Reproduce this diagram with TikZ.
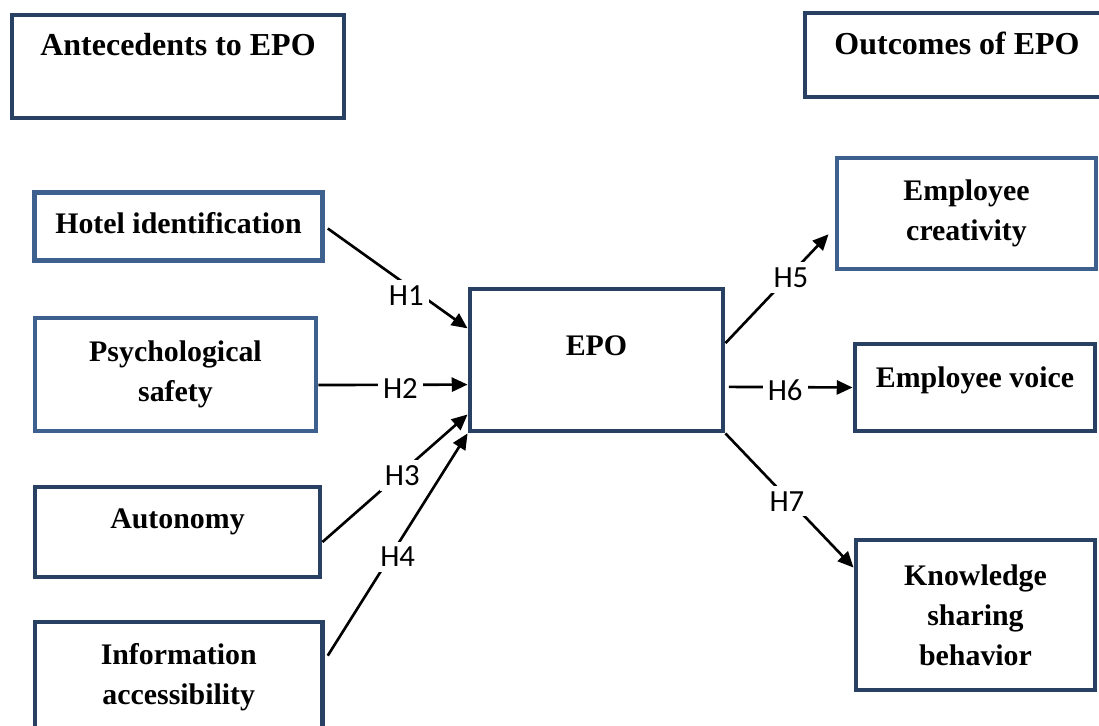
\documentclass[tikz,border=0pt]{standalone}
\usepackage{fontspec}
\setmainfont{Liberation Serif}
\newfontfamily\hypfont{Carlito}
\usepackage{xcolor}
\usepackage{tikz}
\usetikzlibrary{arrows.meta,positioning}

\definecolor{navy}{RGB}{40,64,98}
\definecolor{steel}{RGB}{62,96,143}

\tikzset{
  box/.style={draw=navy, line width=2.8pt, rectangle, align=center, inner sep=2pt,
    font=\fontsize{17}{22.7}\selectfont\bfseries},
  headbox/.style={box, font=\fontsize{18.2}{22.7}\selectfont\bfseries},
  lightbox/.style={box, draw=steel},
  hyp/.style={fill=white, inner sep=3pt, yshift=-2pt, font=\fontsize{17.5}{19}\selectfont\hypfont},
  arr/.style={line width=1.5pt, -{Triangle[length=9pt,width=8pt]}}
}

\begin{document}
\begin{tikzpicture}[x=0.02cm, y=-0.02cm]
	\useasboundingbox (0,0) rectangle (1099,726);

	% \draw headings
	\node[headbox, minimum width=6.64cm, minimum height=2.06cm, text height=12.5pt, text depth=25pt] (anteced) at (178,66.5) {Antecedents to EPO};
	\node[headbox, minimum width=6.08cm, minimum height=1.68cm, text height=12.5pt, text depth=13pt] (outcomes) at (957,55) {Outcomes of EPO};

	% \draw antecedents
	\node[lightbox, minimum width=5.76cm, minimum height=1.36cm, text height=12pt, text depth=3.5pt] (hotel) at (178.5,226.5) {Hotel identification};
	\node[lightbox, minimum width=5.62cm, minimum height=2.26cm] (psych) at (175.5,374.5) {Psychological\\safety};
	\node[box, minimum width=5.7cm, minimum height=1.8cm, text height=12pt, text depth=15.5pt] (autonomy) at (177.5,532) {Autonomy};
	\node[box, minimum width=5.75cm, minimum height=2.2cm] (info) at (178.75,677) {Information\\accessibility};

	% \draw EPO
	\node[box, minimum width=5.06cm, minimum height=2.84cm, text height=12pt, text depth=17.5pt] (epo) at (596.5,360) {EPO};

	% \draw outcomes
	\node[lightbox, minimum width=5.18cm, minimum height=2.22cm] (creativity) at (966.5,213.5) {Employee\\creativity};
	\node[box, minimum width=4.8cm, minimum height=1.74cm, text height=12pt, text depth=12.5pt] (voice) at (975,387.5) {Employee voice};
	\node[box, minimum width=4.78cm, minimum height=3cm] (knowledge) at (975.5,615) {Knowledge\\sharing\\behavior};

	% \draw hypotheses
	\draw[arr, shorten <=2pt] (hotel.east) -- node[hyp, pos=.57, yshift=-4pt] {H1} ([yshift=18pt]epo.west);
	\draw[arr] ([yshift=-6pt]psych.east) -- node[hyp, pos=.55] {H2} ([yshift=-14pt]epo.west);
	\draw[arr] ([yshift=-5.7pt]autonomy.east) -- node[hyp, pos=.55] {H3} ([yshift=-31pt]epo.west);
	\draw[arr, shorten <=3pt] ([yshift=9.6pt]info.east) -- node[hyp, pos=.51, yshift=-5pt] {H4} (epo.south west);
	\draw[arr, shorten >=5pt] ([yshift=9.6pt]epo.east) -- node[hyp, pos=.6] {H5} ([yshift=-8.2pt]creativity.west);
	\draw[arr, shorten <=2pt] ([yshift=-15.3pt]epo.east) -- node[hyp, pos=.47] {H6} (voice.west);
	\draw[arr] (epo.south east) -- node[hyp, pos=.48] {H7} ([yshift=27pt]knowledge.west);
\end{tikzpicture}
\end{document}
